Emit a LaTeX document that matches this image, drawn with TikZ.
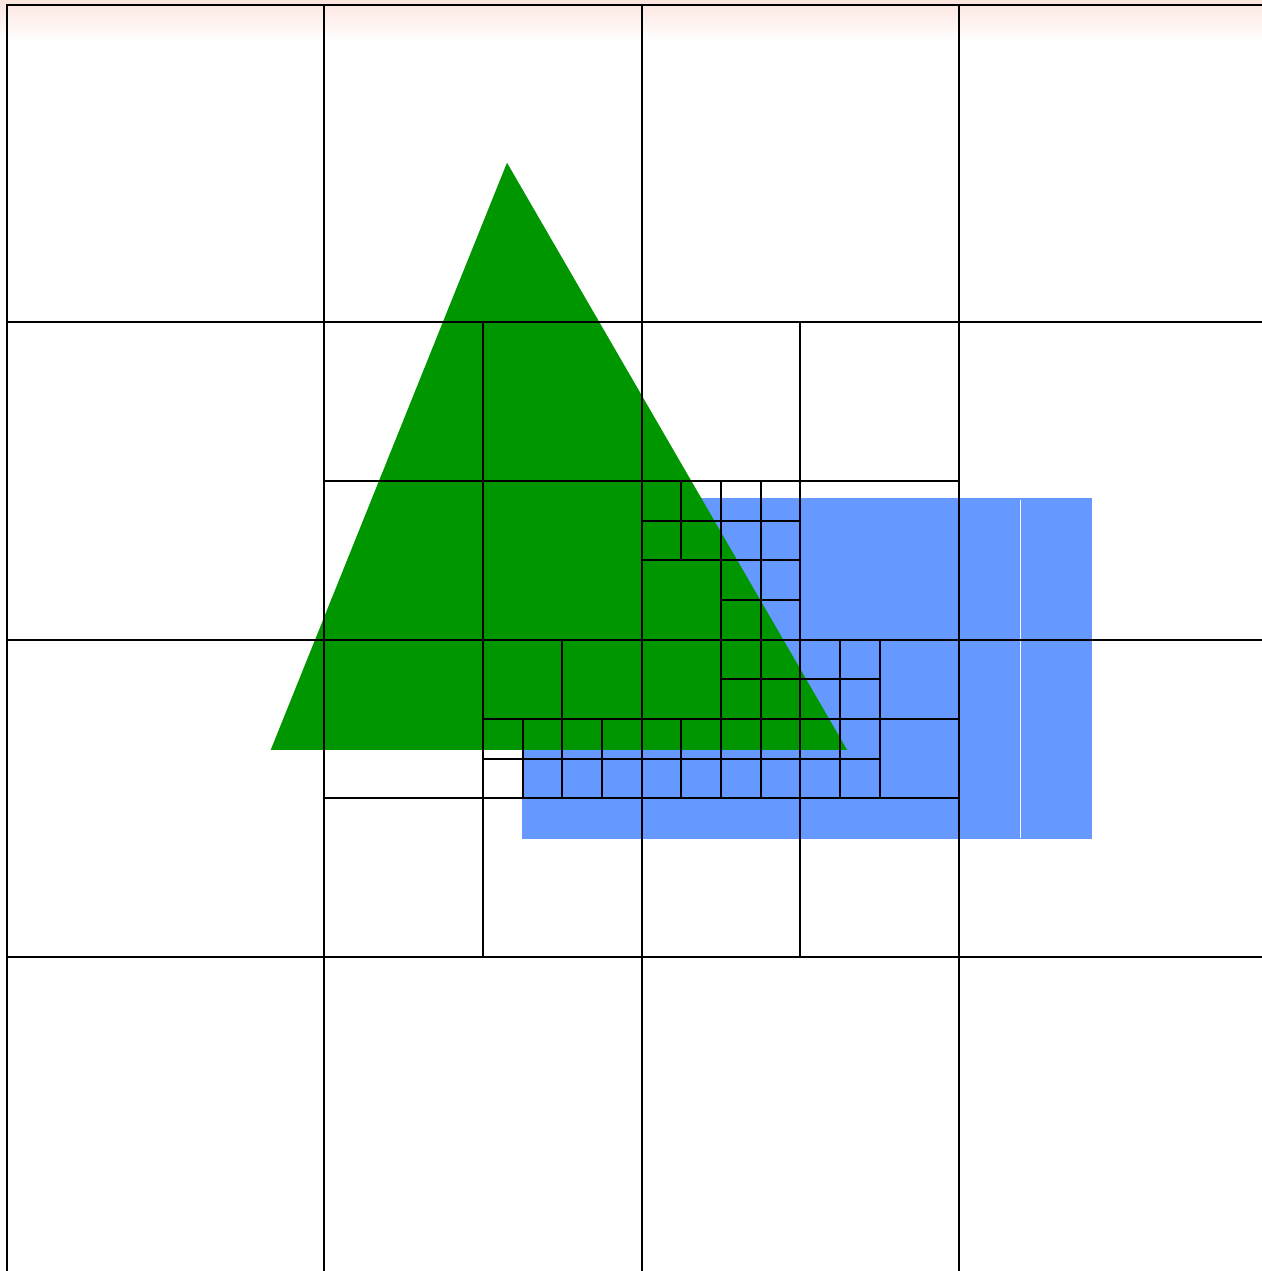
\documentclass[tikz,border=0pt]{standalone}
\usetikzlibrary{calc}
\definecolor{treegreen}{RGB}{0,150,0}
\definecolor{rectblue}{RGB}{102,153,255}
\definecolor{toppink}{RGB}{252,228,222}
\tikzset{gridline/.style={black,line width=1pt,line cap=rect}}
\begin{document}
\begin{tikzpicture}[x=19.8333pt,y=-19.8333pt]
% image frame: 1262x1271 px, origin at pixel (7,5), unit = 39.667 px
\coordinate (tl) at (-0.17647,-0.12605);
\coordinate (br) at (31.6387,31.9160);
\useasboundingbox (tl) rectangle (br);
\fill[white] (tl) rectangle (br);
\shade[top color=toppink,bottom color=white] (tl) rectangle (31.6387,0.9);
\begin{scope}
\clip (tl) rectangle (br);
% blue rectangle
\fill[rectblue] (12.983,12.428) rectangle (27.36,21.025);
\draw[white,line width=0.5pt] (25.545,12.48) -- (25.545,20.99);
% green triangle
\fill[treegreen] (12.605,3.976) -- (6.648,18.78) -- (21.18,18.78) -- cycle;
% level 1
\foreach \v in {0,8,16,24}{
  \draw[gridline] (\v,0) -- (\v,33);
  \draw[gridline] (0,\v) -- (33,\v);
}
% level 2
\draw[gridline] (12,8) -- (12,24);
\draw[gridline] (20,8) -- (20,24);
\draw[gridline] (8,12) -- (24,12);
\draw[gridline] (8,20) -- (24,20);
% level 3
\draw[gridline] (18,12) -- (18,20);
\draw[gridline] (16,14) -- (20,14);
\draw[gridline] (12,18) -- (24,18);
\draw[gridline] (14,16) -- (14,20);
\draw[gridline] (22,16) -- (22,20);
% level 4
\draw[gridline] (17,12) -- (17,14);
\draw[gridline] (17,18) -- (17,20);
\draw[gridline] (16,13) -- (20,13);
\draw[gridline] (19,12) -- (19,20);
\draw[gridline] (18,15) -- (20,15);
\draw[gridline] (18,17) -- (22,17);
\draw[gridline] (21,16) -- (21,20);
\draw[gridline] (13,18) -- (13,20);
\draw[gridline] (15,18) -- (15,20);
\draw[gridline] (12,19) -- (22,19);
\end{scope}
\end{tikzpicture}
\end{document}
